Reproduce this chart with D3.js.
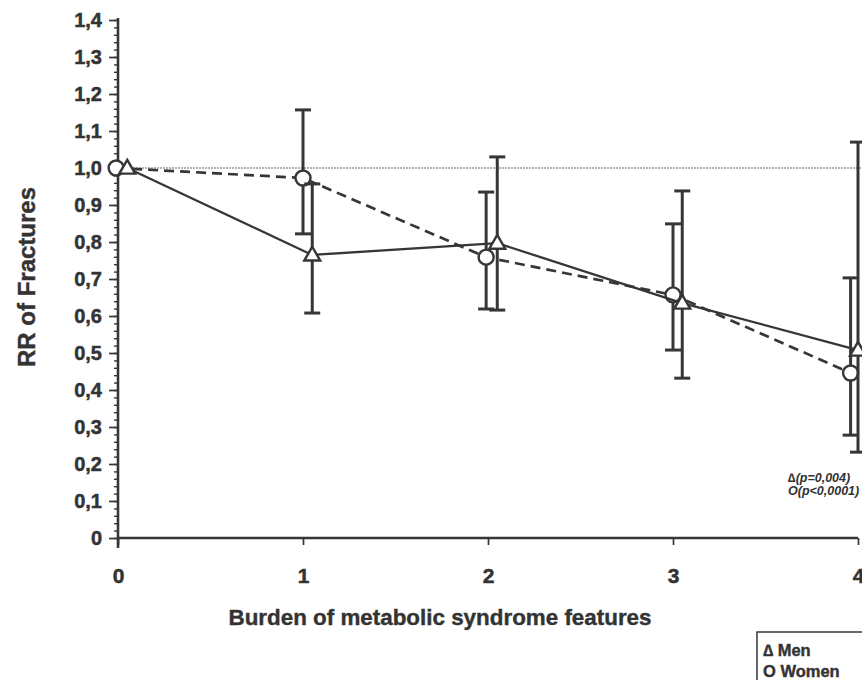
<!DOCTYPE html>
<html>
<head>
<meta charset="utf-8">
<script src="https://cdn.jsdelivr.net/npm/d3@7"></script>
<style>
  html, body { margin: 0; padding: 0; background: #fff; }
  svg { display: block; }
  text { font-family: "Liberation Sans", Arial, Helvetica, sans-serif; fill: #333; }
</style>
</head>
<body>
<svg id="chart" width="862" height="680"></svg>
<script>
// ---- data ----
const categories = [0, 1, 2, 3, 4];
const yTicks = [0, 0.1, 0.2, 0.3, 0.4, 0.5, 0.6, 0.7, 0.8, 0.9, 1.0, 1.1, 1.2, 1.3, 1.4];

const menX     = [0.05, 1.05, 2.05, 3.05, 4.0];
const menRR    = [1.00, 0.765, 0.797, 0.635, 0.508];
const menLow   = [1.00, 0.608, 0.616, 0.432, 0.232];
const menHigh  = [1.00, 0.957, 1.030, 0.938, 1.070];

const womenX    = [-0.01, 1.0, 1.99, 3.0, 3.96];
const womenRR   = [1.00, 0.973, 0.759, 0.657, 0.446];
const womenLow  = [1.00, 0.822, 0.619, 0.508, 0.278];
const womenHigh = [1.00, 1.157, 0.935, 0.849, 0.703];

const pLabels = ["\u2206(p=0,004)", "O(p<0,0001)"];
const legendLabels = ["\u2206 Men", "O Women"];
const xTitle = "Burden of metabolic syndrome features";
const yTitle = "RR of Fractures";

// ---- layout ----
const svg = d3.select("#chart");
const ink = "#363636";
const x = d3.scaleLinear().domain([0, 4]).range([118, 858]);
const y = d3.scaleLinear().domain([0, 1.4]).range([538, 20]);

const fmt = v => v === 0 ? "0" : d3.format(".1f")(v).replace(".", ",");

// reference line at RR = 1
svg.append("line")
  .attr("x1", x(0)).attr("x2", 862)
  .attr("y1", y(1)).attr("y2", y(1))
  .attr("stroke", "#999").attr("stroke-width", 1.3)
  .attr("stroke-dasharray", "2,1");

// minor y ticks
const minor = d3.range(0, 1.401, 0.02);
const gMinor = svg.append("g").attr("transform", `translate(${x(0)},0)`)
  .call(d3.axisLeft(y).tickValues(minor).tickSize(4).tickFormat(""));
gMinor.select(".domain").remove();
gMinor.selectAll("line").attr("stroke", ink).attr("stroke-width", 1.4);

// major y axis
const gY = svg.append("g").attr("transform", `translate(${x(0)},0)`)
  .call(d3.axisLeft(y).tickValues(yTicks).tickSize(9).tickPadding(7).tickFormat(fmt));
gY.select(".domain").attr("stroke", ink).attr("stroke-width", 2.6)
  .attr("d", `M0,${y(1.4) - 2}V${y(0) + 10}`);
gY.selectAll(".tick line").attr("stroke", ink).attr("stroke-width", 1.7);
gY.selectAll(".tick text")
  .style("font-size", "20px").style("font-weight", "bold").attr("fill", ink)
  .attr("stroke", ink).attr("stroke-width", 0.5)
  .style("font-family", "'Liberation Sans', Arial, sans-serif");

// x axis
const gX = svg.append("g").attr("transform", `translate(0,${y(0)})`)
  .call(d3.axisBottom(x).tickValues(categories).tickSize(7).tickPadding(23).tickFormat(d3.format("d")));
gX.select(".domain").attr("stroke", ink).attr("stroke-width", 2.6)
  .attr("d", `M${x(0)},0H${x(4)}`);
gX.selectAll(".tick line").attr("stroke", ink).attr("stroke-width", 1.7);
gX.selectAll(".tick text")
  .style("font-size", "21px").style("font-weight", "bold").attr("fill", ink)
  .attr("stroke", ink).attr("stroke-width", 0.5)
  .style("font-family", "'Liberation Sans', Arial, sans-serif");

// axis titles
svg.append("text")
  .attr("x", 440).attr("y", 625).attr("text-anchor", "middle")
  .style("font-size", "22.4px").style("font-weight", "bold").attr("fill", ink)
  .attr("stroke", ink).attr("stroke-width", 0.4)
  .text(xTitle);
svg.append("text")
  .attr("transform", `translate(35,${277}) rotate(-90)`).attr("text-anchor", "middle")
  .style("font-size", "24px").style("font-weight", "bold").attr("fill", ink)
  .attr("stroke", ink).attr("stroke-width", 0.4)
  .text(yTitle);

// series builder
function series(xs, rr, lo, hi, dashed) {
  const pts = xs.map((v, i) => ({ x: v, rr: rr[i], lo: lo[i], hi: hi[i] }));
  const g = svg.append("g");
  g.append("path")
    .datum(pts)
    .attr("fill", "none").attr("stroke", ink)
    .attr("stroke-width", dashed ? 2.7 : 2.3)
    .attr("stroke-dasharray", dashed ? "10,6" : null)
    .attr("d", d3.line().x(d => x(d.x)).y(d => y(d.rr)));
  const eb = pts.filter(d => d.hi !== d.lo);
  g.selectAll(".eb").data(eb).enter().append("line")
    .attr("x1", d => x(d.x)).attr("x2", d => x(d.x))
    .attr("y1", d => y(d.hi)).attr("y2", d => y(d.lo))
    .attr("stroke", ink).attr("stroke-width", 3);
  ["hi", "lo"].forEach(k => {
    g.selectAll(".cap" + k).data(eb).enter().append("line")
      .attr("x1", d => x(d.x) - 8).attr("x2", d => x(d.x) + 8)
      .attr("y1", d => y(d[k])).attr("y2", d => y(d[k]))
      .attr("stroke", ink).attr("stroke-width", 3);
  });
  return { g, pts };
}

const men = series(menX, menRR, menLow, menHigh, false);
const women = series(womenX, womenRR, womenLow, womenHigh, true);

// markers
women.g.selectAll("circle").data(women.pts).enter().append("circle")
  .attr("cx", d => x(d.x)).attr("cy", d => y(d.rr)).attr("r", 7.5)
  .attr("fill", "#fff").attr("stroke", ink).attr("stroke-width", 2.4);
men.g.selectAll(".tri").data(men.pts).enter().append("path")
  .attr("transform", d => `translate(${x(d.x)},${y(d.rr) + 1})`)
  .attr("d", d3.symbol().type(d3.symbolTriangle).size(110)())
  .attr("fill", "#fff").attr("stroke", ink).attr("stroke-width", 2.4);
svg.node().appendChild(men.g.node());

// p-value annotations
pLabels.forEach((t, i) => {
  svg.append("text")
    .attr("x", 788).attr("y", 482 + i * 13)
    .style("font-size", "12.5px").style("font-weight", "bold").style("font-style", "italic")
    .attr("fill", ink).text(t);
});

// legend box
svg.append("rect")
  .attr("x", 757).attr("y", 632).attr("width", 120).attr("height", 60)
  .attr("fill", "none").attr("stroke", ink).attr("stroke-width", 1.5);
legendLabels.forEach((t, i) => {
  svg.append("text")
    .attr("x", 763).attr("y", 656 + i * 21)
    .style("font-size", "16.5px").style("font-weight", "bold")
    .attr("stroke", ink).attr("stroke-width", 0.4)
    .attr("fill", ink).text(t);
});
</script>
</body>
</html>
